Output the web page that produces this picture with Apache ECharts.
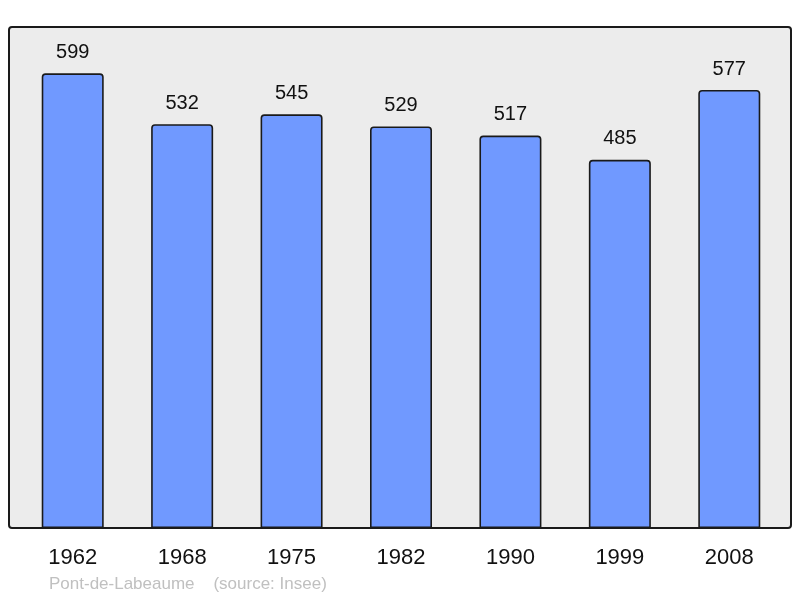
<!DOCTYPE html>
<html>
<head>
<meta charset="utf-8">
<script src="https://cdn.jsdelivr.net/npm/echarts@6/dist/echarts.min.js"></script>
<style>
  html, body { margin: 0; padding: 0; background: #fff; }
  #chart { width: 800px; height: 598px; }
</style>
</head>
<body>
<div id="chart"></div>
<script>
// données population
var years = ['1962', '1968', '1975', '1982', '1990', '1999', '2008'];
var population = [599, 532, 545, 529, 517, 485, 577];
var footer = 'Pont-de-Labeaume    (source: Insee)';

var myChart = echarts.init(document.getElementById('chart'));
var option = {
    animation: false,
    textStyle: { fontFamily: 'Liberation Sans, Arial, sans-serif' },
    graphic: [
        {
            type: 'rect',
            z: -10,
            shape: { x: 9, y: 27, width: 782, height: 501, r: 3 },
            style: { fill: '#ececec', stroke: '#1a1a1a', lineWidth: 2 }
        },
        {
            type: 'text',
            left: 49,
            top: 576,
            style: {
                text: footer,
                fill: '#c0c0c0',
                font: '17px Liberation Sans, Arial, sans-serif'
            }
        }
    ],
    grid: { left: 18, right: 16, top: 27, bottom: 70 },
    xAxis: {
        type: 'category',
        data: years,
        axisLine: { show: false },
        axisTick: { show: false },
        axisLabel: { color: '#111', fontSize: 22, margin: 19 }
    },
    yAxis: {
        type: 'value',
        min: 0,
        max: 660,
        show: false
    },
    series: [{
        type: 'bar',
        data: population,
        barWidth: 62,
        itemStyle: {
            color: '#7099ff',
            borderColor: '#1a1a1a',
            borderWidth: 1.6,
            borderRadius: [3, 3, 0, 0]
        },
        label: {
            show: true,
            position: 'top',
            distance: 11,
            color: '#111',
            fontSize: 20
        }
    }]
};
myChart.setOption(option);
</script>
</body>
</html>
